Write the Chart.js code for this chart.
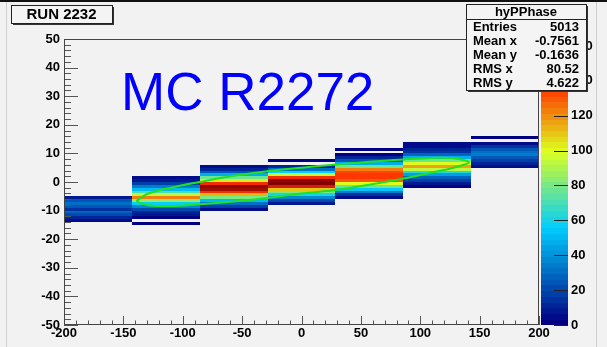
<!DOCTYPE html>
<html>
<head>
<meta charset="utf-8">
<script src="https://cdn.jsdelivr.net/npm/chart.js@4"></script>
<style>
  html, body { margin: 0; padding: 0; background: #f2f2f2; }
  #wrap { width: 607px; height: 347px; }
</style>
</head>
<body>
<div id="wrap"><canvas id="hist" width="607" height="347"></canvas></div>
<script>
// hyPPhase: 7 x bins from -200 to 200, y bins 1 unit wide
const xEdges = [-200, -142.86, -85.71, -28.57, 28.57, 85.71, 142.86, 200];
// upper y edge of the first listed bin in every column
const colTop = [-5, 2, 6, 8, 12, 14, 16];
// bin contents per column, going down from colTop
const col1 = [8, 23, 31, 25, 14, 27, 20, 10, 4];
const col2 = [4, 9, 19, 35, 52, 70, 95, 122, 85, 56, 38, 22, 13, 7, 3, 0, 3];
const col3 = [4, 10, 26, 46, 78, 104, 138, 160, 156, 140, 112, 80, 50, 32, 17, 6];
const col4 = [3, 0, 10, 30, 58, 94, 138, 158, 164, 147, 110, 80, 60, 38, 20, 7];
const col5 = [3, 0, 3, 10, 26, 46, 78, 122, 134, 136, 136, 128, 100, 78, 54, 34, 16, 5];
const col6 = [4, 6, 10, 14, 28, 46, 78, 100, 118, 95, 64, 45, 27, 17, 9, 3];
const col7 = [3, 0, 6, 14, 24, 30, 33, 26, 19, 10, 4];
const columns = [col1, col2, col3, col4, col5, col6, col7];

// green contour around the band
const contourX = [-139, -130, -110, -86, -57, -29, 0, 29, 57, 86, 110, 128, 138, 141,
                  138, 128, 110, 86, 57, 29, 0, -29, -57, -86, -110, -128, -136, -139];
const contourY = [-6.6, -4.2, -2.0, 0, 2.2, 3.8, 5.0, 6.1, 7.1, 7.9, 8.4, 8.3, 7.5, 6.8,
                  6.2, 5.0, 3.3, 1.2, -1.0, -2.8, -4.0, -5.6, -6.8, -7.8, -8.4, -8.2, -7.4, -6.6];

const xTicks = [-200, -150, -100, -50, 0, 50, 100, 150, 200];
const yTicks = [-50, -40, -30, -20, -10, 0, 10, 20, 30, 40, 50];
const zTicks = [0, 20, 40, 60, 80, 100, 120, 140, 160];

const statLabels = ['Entries', 'Mean x', 'Mean y', 'RMS x', 'RMS y'];
const statValues = [null, '-0.7561', '-0.1636', '80.52', '4.622'];

const FONT = "'Liberation Sans', Arial, Helvetica, sans-serif";
const entries = columns.reduce((s, c) => s + c.reduce((a, b) => a + b, 0), 0);
statValues[0] = String(entries);
const zMax = Math.max(...columns.map(c => Math.max(...c)));

// ROOT style gradient palette
const palStops = [0.00, 0.34, 0.61, 0.84, 1.00];
const palR = [0.00, 0.00, 0.87, 1.00, 0.51];
const palG = [0.00, 0.81, 1.00, 0.20, 0.00];
const palB = [0.51, 1.00, 0.12, 0.00, 0.00];
const nLevels = 50;

function gradient(f) {
    let i = 0;
    while (i < palStops.length - 2 && f > palStops[i + 1]) i++;
    const t = (f - palStops[i]) / (palStops[i + 1] - palStops[i]);
    const c = (a) => Math.round(255 * (a[i] + (a[i + 1] - a[i]) * t));
    return `rgb(${c(palR)},${c(palG)},${c(palB)})`;
}
function levelColor(v) {
    const lev = Math.min(Math.floor(v / zMax * nLevels), nLevels - 1);
    return gradient(lev / (nLevels - 1));
}

function drawTicks(ctx, scale, values, len, horizontal, area) {
    ctx.beginPath();
    values.forEach(v => {
        const p = Math.round(scale.getPixelForValue(v)) + 0.5;
        if (horizontal) {
            ctx.moveTo(p, area.bottom);
            ctx.lineTo(p, area.bottom - len);
        } else {
            ctx.moveTo(area.left, p);
            ctx.lineTo(area.left + len, p);
        }
    });
    ctx.stroke();
}

function boxWithShadow(ctx, x, y, w, h) {
    ctx.fillStyle = '#333';
    ctx.fillRect(x + 2, y + 2, w, h);
    ctx.fillStyle = '#f4f4f4';
    ctx.fillRect(x, y, w, h);
    ctx.strokeStyle = '#222';
    ctx.lineWidth = 1;
    ctx.strokeRect(x + 0.5, y + 0.5, w, h);
}

const colzPlugin = {
    id: 'colz',
    beforeDraw(chart) {
        const ctx = chart.ctx;
        ctx.save();
        ctx.fillStyle = '#f2f2f2';
        ctx.fillRect(0, 0, chart.width, chart.height);
        ctx.fillStyle = '#111';
        ctx.fillRect(0, 0, chart.width, 2);
        ctx.strokeStyle = '#cfcfcf';
        ctx.beginPath();
        ctx.moveTo(6.5, 2); ctx.lineTo(6.5, chart.height);
        ctx.moveTo(596.5, 2); ctx.lineTo(596.5, chart.height);
        ctx.stroke();
        ctx.restore();
    },
    beforeDatasetsDraw(chart) {
        const ctx = chart.ctx;
        const xs = chart.scales.x, ys = chart.scales.y;
        ctx.save();
        columns.forEach((counts, c) => {
            const x0 = Math.round(xs.getPixelForValue(xEdges[c]));
            const x1 = Math.round(xs.getPixelForValue(xEdges[c + 1]));
            counts.forEach((v, k) => {
                if (v <= 0) return;
                const hi = colTop[c] - k;
                const y0 = Math.round(ys.getPixelForValue(hi));
                const y1 = Math.round(ys.getPixelForValue(hi - 1));
                ctx.fillStyle = levelColor(v);
                ctx.fillRect(x0, y0, x1 - x0, y1 - y0);
            });
        });
        ctx.restore();
    },
    afterDatasetsDraw(chart) {
        const ctx = chart.ctx;
        const a = chart.chartArea;
        const xs = chart.scales.x, ys = chart.scales.y;
        ctx.save();
        ctx.lineWidth = 1;
        ctx.strokeStyle = '#555';
        const yMinor = [], xMinor = [];
        for (let v = -50; v <= 50; v += 2) if (v % 10 !== 0) yMinor.push(v);
        for (let v = -200; v <= 200; v += 10) if (v % 50 !== 0) xMinor.push(v);
        drawTicks(ctx, ys, yTicks, 14, false, a);
        drawTicks(ctx, ys, yMinor, 7, false, a);
        drawTicks(ctx, xs, xTicks, 9, true, a);
        drawTicks(ctx, xs, xMinor, 4.5, true, a);
        ctx.strokeStyle = '#444';
        ctx.strokeRect(Math.round(a.left) + 0.5, Math.round(a.top) + 0.5,
                       Math.round(a.right - a.left) - 1, Math.round(a.bottom - a.top) - 1);
        ctx.restore();
    },
    afterDraw(chart) {
        const ctx = chart.ctx;
        const zs = chart.scales.z;
        ctx.save();

        // colour palette on the right
        const px0 = zs.left + 2, px1 = zs.left + 29;
        for (let i = 0; i < nLevels; i++) {
            const y0 = zs.getPixelForValue((i + 1) * zMax / nLevels);
            const y1 = zs.getPixelForValue(i * zMax / nLevels);
            ctx.fillStyle = gradient(i / (nLevels - 1));
            ctx.fillRect(px0, Math.floor(y0), px1 - px0, Math.ceil(y1) - Math.floor(y0));
        }
        ctx.strokeStyle = '#222';
        ctx.beginPath();
        zTicks.forEach(v => {
            const p = Math.round(zs.getPixelForValue(v)) + 0.5;
            ctx.moveTo(px1 - 14, p);
            ctx.lineTo(px1, p);
        });
        ctx.stroke();

        // title box
        boxWithShadow(ctx, 11, 5, 101, 18);
        ctx.fillStyle = '#000';
        ctx.font = `bold 15px ${FONT}`;
        ctx.textAlign = 'center';
        ctx.textBaseline = 'middle';
        ctx.fillText('RUN 2232', 61.5, 15);

        // label inside the pad
        ctx.fillStyle = '#0000ff';
        ctx.font = `53px ${FONT}`;
        ctx.textAlign = 'left';
        ctx.textBaseline = 'alphabetic';
        ctx.fillText('MC R2272', 121, 110);

        // statistics box
        boxWithShadow(ctx, 466, 4, 120, 86);
        ctx.strokeStyle = '#222';
        ctx.beginPath();
        ctx.moveTo(466, 19.5);
        ctx.lineTo(586, 19.5);
        ctx.stroke();
        ctx.fillStyle = '#000';
        ctx.font = `bold 13px ${FONT}`;
        ctx.textBaseline = 'middle';
        ctx.textAlign = 'center';
        ctx.fillText('hyPPhase', 526, 12);
        statLabels.forEach((lab, i) => {
            const y = 27 + i * 14.2;
            ctx.textAlign = 'left';
            ctx.fillText(lab, 473, y);
            ctx.textAlign = 'right';
            ctx.fillText(statValues[i], 579, y);
        });
        ctx.restore();
    }
};

const tickFont = { family: FONT, size: 13, weight: 'bold' };

new Chart(document.getElementById('hist'), {
    type: 'scatter',
    data: {
        datasets: [{
            data: contourX.map((x, i) => ({ x: x, y: contourY[i] })),
            showLine: true,
            borderColor: '#22e022',
            borderWidth: 2,
            pointRadius: 0,
            tension: 0.35,
            fill: false
        }]
    },
    options: {
        responsive: false,
        animation: false,
        layout: { padding: { top: 39, right: 0, bottom: 0, left: 0 } },
        plugins: { legend: { display: false }, tooltip: { enabled: false } },
        scales: {
            x: {
                type: 'linear', min: -200, max: 200, position: 'bottom',
                afterBuildTicks: s => { s.ticks = xTicks.map(v => ({ value: v })); },
                afterFit: s => { s.height = 22; },
                ticks: { autoSkip: false, maxRotation: 0, padding: 1, color: '#000', font: tickFont },
                grid: { display: false, drawTicks: false },
                border: { display: false }
            },
            y: {
                type: 'linear', min: -50, max: 50, position: 'left',
                afterBuildTicks: s => { s.ticks = yTicks.map(v => ({ value: v })); },
                afterFit: s => { s.width = 64; },
                ticks: { autoSkip: false, padding: 4, color: '#000', font: tickFont },
                grid: { display: false, drawTicks: false },
                border: { display: false }
            },
            z: {
                type: 'linear', min: 0, max: zMax, position: 'right',
                afterBuildTicks: s => { s.ticks = zTicks.map(v => ({ value: v })); },
                afterFit: s => { s.width = 68; },
                ticks: { autoSkip: false, padding: 0, color: '#000', font: tickFont },
                // invisible tick marks only push the labels right of the palette
                grid: { display: true, drawOnChartArea: false, drawTicks: true, tickLength: 32, color: 'rgba(0,0,0,0)' },
                border: { display: false }
            }
        }
    },
    plugins: [colzPlugin]
});
</script>
</body>
</html>
